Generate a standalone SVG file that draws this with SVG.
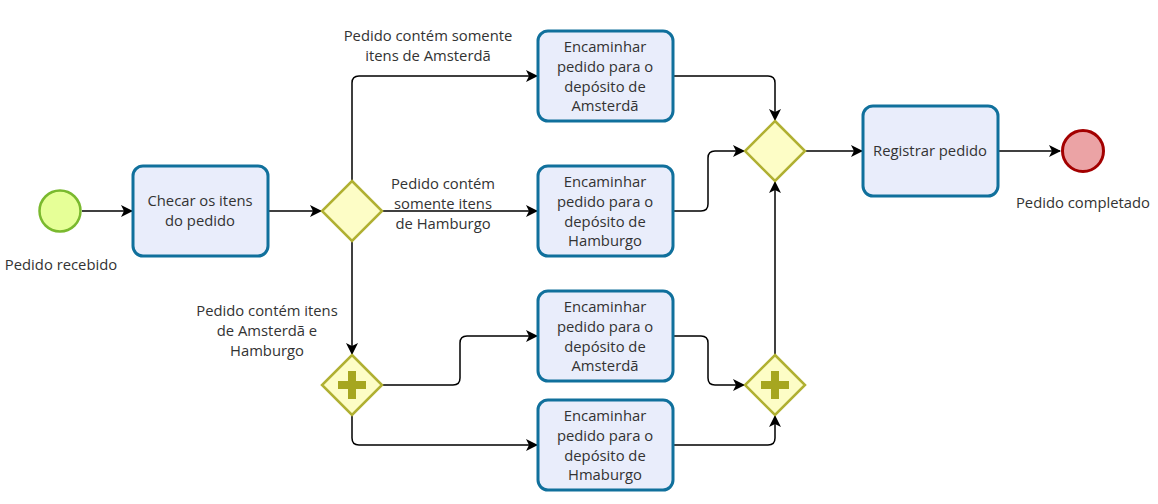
<svg xmlns="http://www.w3.org/2000/svg" width="1158" height="504" viewBox="0 0 1158 504">
<defs>
<marker id="arr" viewBox="0 0 12 12" refX="11" refY="6" markerWidth="12" markerHeight="12" markerUnits="userSpaceOnUse" orient="auto">
<path d="M0,0 L12,6 L0,12 L3,6 Z" fill="#000"/>
</marker>
<style>
text{font-family:"Open Sans","DejaVu Sans",sans-serif;font-size:14.8px;fill:#333;text-anchor:middle}
.task{fill:#e9edfb;stroke:#10709c;stroke-width:3}
.gw{fill:#fdfdc6;stroke:#b0b032;stroke-width:2.5}
.plus{fill:#a6a620}
.c{fill:none;stroke:#000;stroke-width:1.5;marker-end:url(#arr)}
</style>
</defs>
<rect width="1158" height="504" fill="#fff"/>
<g id="connectors">
<path class="c" d="M82,211 H132"/>
<path class="c" d="M268,211 H321"/>
<path class="c" d="M352,181 V83 Q352,76 359,76 H537"/>
<path class="c" d="M382,211 H537"/>
<path class="c" d="M352,241 V354"/>
<path class="c" d="M382,385 H453 Q460,385 460,378 V343 Q460,336 467,336 H537"/>
<path class="c" d="M352,415 V438 Q352,445 359,445 H537"/>
<path class="c" d="M673,76 H768 Q775,76 775,83 V120"/>
<path class="c" d="M673,211 H701 Q708,211 708,204 V158 Q708,151 715,151 H744"/>
<path class="c" d="M673,336 H701 Q708,336 708,343 V378 Q708,385 715,385 H744"/>
<path class="c" d="M673,445 H768 Q775,445 775,438 V416"/>
<path class="c" d="M775,355 V182"/>
<path class="c" d="M806,151 H862"/>
<path class="c" d="M998,151 H1060"/>
</g>
<g id="start">
<circle cx="60" cy="211" r="20.5" fill="#e6ff97" stroke="#7ab92e" stroke-width="2.5"/>
<text x="61" y="270">Pedido recebido</text>
</g>
<g id="task-checar">
<rect class="task" x="133" y="166" width="135" height="90" rx="10"/>
<text x="200" y="206">Checar os itens</text>
<text x="200" y="226">do pedido</text>
</g>
<g id="gw-split">
<path class="gw" d="M352,181 L382,211 L352,241 L322,211 Z"/>
</g>
<g id="label-ams">
<text x="428" y="41">Pedido contém somente</text>
<text x="428" y="61">itens de Amsterdã</text>
</g>
<g id="label-ham">
<text x="443" y="189">Pedido contém</text>
<text x="443" y="209">somente itens</text>
<text x="443" y="229">de Hamburgo</text>
</g>
<g id="label-both">
<text x="267" y="316">Pedido contém itens</text>
<text x="267" y="336">de Amsterdã e</text>
<text x="267" y="356">Hamburgo</text>
</g>
<g id="task-ams1">
<rect class="task" x="538" y="31" width="135" height="90" rx="10"/>
<text x="605" y="52">Encaminhar</text>
<text x="605" y="72">pedido para o</text>
<text x="605" y="92">depósito de</text>
<text x="605" y="111">Amsterdã</text>
</g>
<g id="task-ham">
<rect class="task" x="538" y="166" width="135" height="90" rx="10"/>
<text x="605" y="187">Encaminhar</text>
<text x="605" y="207">pedido para o</text>
<text x="605" y="227">depósito de</text>
<text x="605" y="246">Hamburgo</text>
</g>
<g id="gw-par-split">
<path class="gw" d="M352,355 L382,385 L352,415 L322,385 Z"/>
<path class="plus" d="M348,371 h8 v10 h10 v8 h-10 v10 h-8 v-10 h-10 v-8 h10 Z"/>
</g>
<g id="task-ams2">
<rect class="task" x="538" y="291" width="135" height="90" rx="10"/>
<text x="605" y="312">Encaminhar</text>
<text x="605" y="332">pedido para o</text>
<text x="605" y="352">depósito de</text>
<text x="605" y="371">Amsterdã</text>
</g>
<g id="task-hma">
<rect class="task" x="538" y="400" width="135" height="90" rx="10"/>
<text x="605" y="421">Encaminhar</text>
<text x="605" y="441">pedido para o</text>
<text x="605" y="461">depósito de</text>
<text x="605" y="480">Hmaburgo</text>
</g>
<g id="gw-par-join">
<path class="gw" d="M775,355 L805,385 L775,415 L745,385 Z"/>
<path class="plus" d="M771,371 h8 v10 h10 v8 h-10 v10 h-8 v-10 h-10 v-8 h10 Z"/>
</g>
<g id="gw-join">
<path class="gw" d="M775,121 L805,151 L775,181 L745,151 Z"/>
</g>
<g id="task-registrar">
<rect class="task" x="863" y="106" width="135" height="90" rx="10"/>
<text x="930" y="156">Registrar pedido</text>
</g>
<g id="end">
<circle cx="1083" cy="151" r="20.5" fill="#eba3a5" stroke="#a30000" stroke-width="3"/>
<text x="1083" y="208">Pedido completado</text>
</g>
</svg>
